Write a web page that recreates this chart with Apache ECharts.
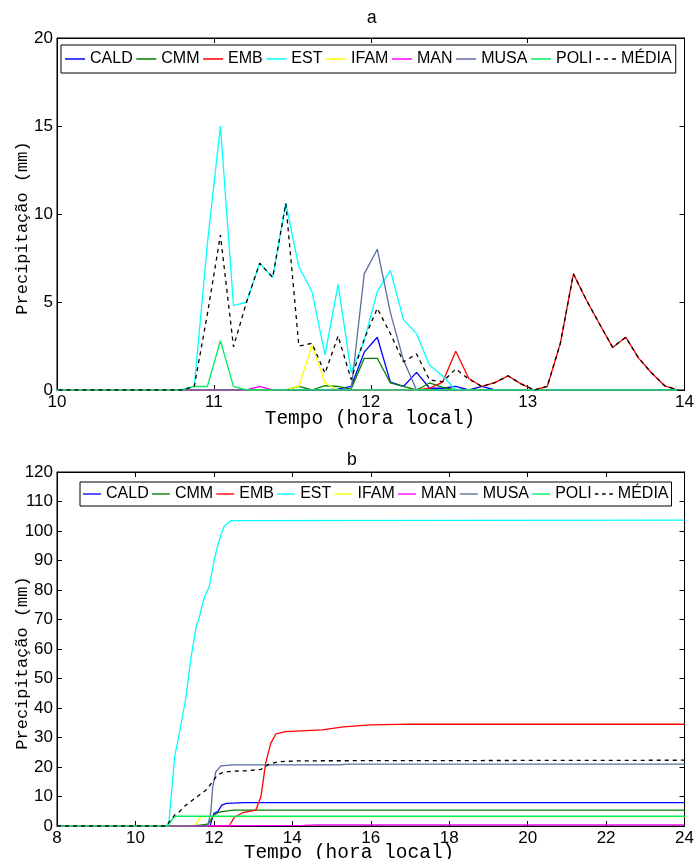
<!DOCTYPE html>
<html><head><meta charset="utf-8">
<script src="https://cdn.jsdelivr.net/npm/echarts@6/dist/echarts.min.js"></script>
<style>html,body{margin:0;padding:0;background:#fff}#c{width:697px;height:859px}</style>
</head><body><div id="c"></div>
<script>
// ---------- Panel a: 5-min precipitation (mm), samples every 5 min starting 09:57.5 ----------
const stations = ['CALD','CMM','EMB','EST','IFAM','MAN','MUSA','POLI','MÉDIA'];
const colors = ['#0000ff','#008000','#ff0000','#00ffff','#ffff00','#ff00ff','#5a6e9c','#00ee66','#000000'];
const startMinA = -2.5, stepMinA = 5;

const aCALD = [0,0,0,0,0,0,0,0,0,0,0,0,0,
  0,0,0,0,0,0,0,0,0,0.05,0.2,2.15,
  3.0,0.45,0.2,1.0,0.1,0.1,0.2,0,0.2,0,0,0,
  0,0,0,0,0,0,0,0,0,0,0,0];
const aCMM = [0,0,0,0,0,0,0,0,0,0,0,0,0,
  0,0,0,0,0,0,0.2,0,0.25,0.2,0.05,1.8,
  1.8,0.4,0.2,0,0.4,0.15,0,0,0,0,0,0,
  0,0,0,0,0,0,0,0,0,0,0,0];
const aEMB = [0,0,0,0,0,0,0,0,0,0,0,0,0,
  0,0,0,0,0,0,0,0,0,0,0,0,
  0,0,0,0,0.1,0.45,2.2,0.65,0.2,0.42,0.8,0.35,
  0,0.2,2.65,6.6,5.1,3.75,2.42,3.0,1.8,0.95,0.23,0];
const aEST = [0,0,0,0,0,0,0,0,0,0,0,0.2,8.3,
  15.0,4.8,5.0,7.2,6.4,10.6,7.0,5.6,2.0,6.0,1.0,2.8,
  5.6,6.8,4.0,3.2,1.4,0.8,0,0,0,0,0,0,
  0,0,0,0,0,0,0,0,0,0,0,0];
const aIFAM = [0,0,0,0,0,0,0,0,0,0,0,0,0,
  0,0,0,0,0,0,0.2,2.55,0.4,0,0,0,
  0,0,0,0,0,0,0,0,0,0,0,0,
  0,0,0,0,0,0,0,0,0,0,0,0];
const aMAN = [0,0,0,0,0,0,0,0,0,0,0,0,0,
  0,0,0,0.2,0,0,0,0,0,0,0,0,
  0,0,0,0,0,0,0,0,0,0,0,0,
  0,0,0,0,0,0,0,0,0,0,0,0];
const aMUSA = [0,0,0,0,0,0,0,0,0,0,0,0,0,
  0,0,0,0,0,0,0,0,0,0,0,6.6,
  8.0,4.4,1.7,0,0,0,0,0,0,0,0,0,
  0,0,0,0,0,0,0,0,0,0,0,0];
const aPOLI = [0,0,0,0,0,0,0,0,0,0,0,0.2,0.2,
  2.8,0.2,0,0,0,0,0,0,0,0,0,0,
  0,0,0,0,0,0,0,0,0,0,0,0,
  0,0,0,0,0,0,0,0,0,0,0,0];
const aMEDIA = [0,0,0,0,0,0,0,0,0,0,0,0.2,4.3,
  8.8,2.46,5.0,7.2,6.4,10.6,2.5,2.65,0.95,3.07,0.6,2.9,
  4.64,3.2,1.6,2.05,0.57,0.47,1.2,0.62,0.2,0.42,0.8,0.35,
  0,0.2,2.65,6.6,5.1,3.75,2.42,3.0,1.8,0.95,0.23,0];

// ---------- Panel b: accumulated precipitation (mm), [hour, mm] ----------
const bCALD = [[8,0],[11.9,0],[11.96,2.5],[12.0,4.3],[12.1,4.9],[12.15,6.0],[12.2,7.1],[12.32,7.7],[12.8,7.9],[24,7.9]];
const bCMM = [[8,0],[11.5,0],[11.55,0.2],[11.75,0.5],[11.86,0.7],[11.92,2.0],[12.0,3.7],[12.1,4.5],[12.2,4.85],[12.4,5.2],[12.5,5.4],[24,5.4]];
const bEMB = [[8,0],[12.39,0],[12.52,2.9],[12.73,4.5],[13.07,5.4],[13.2,9.9],[13.32,21.3],[13.45,28.0],[13.58,31.2],[13.83,32.0],[14.76,32.6],[15.3,33.6],[16,34.3],[17,34.5],[24,34.5]];
const bEST = [[8,0],[10.79,0],[10.85,1.0],[11.0,23.5],[11.12,31.4],[11.29,43.8],[11.42,57.4],[11.55,67.6],[11.63,70.9],[11.76,77.7],[11.88,81.1],[12.01,90.2],[12.09,94.7],[12.18,98.6],[12.26,101.5],[12.43,103.5],[24,103.7]];
const bIFAM = [[8,0],[11.48,0],[11.55,0.6],[11.63,2.9],[11.72,3.15],[24,3.15]];
const bMAN = [[8,0],[11.28,0],[11.33,0.2],[14.3,0.2],[14.6,0.4],[24,0.4]];
const bMUSA = [[8,0],[11.84,0],[11.92,4.3],[11.97,13.3],[12.05,18.4],[12.18,20.4],[12.47,20.7],[15.2,20.7],[15.4,21.0],[24,21.0]];
const bPOLI = [[8,0],[10.83,0],[10.87,0.6],[10.95,2.6],[11.04,3.3],[24,3.3]];
const bMEDIA = [[8,0],[10.78,0],[11.0,3.7],[11.12,4.85],[11.29,7.1],[11.46,8.8],[11.63,10.5],[11.8,12.2],[11.97,15.0],[12.09,17.3],[12.22,18.1],[12.47,18.6],[12.82,18.7],[13.2,19.2],[13.41,21.0],[13.66,21.8],[14.17,22.1],[24,22.3]];

const seriesA = [aCALD,aCMM,aEMB,aEST,aIFAM,aMAN,aMUSA,aPOLI,aMEDIA];
const seriesB = [bCALD,bCMM,bEMB,bEST,bIFAM,bMAN,bMUSA,bPOLI,bMEDIA];

const SANS = '"Liberation Sans", Arial, Helvetica, sans-serif';
const MONO = '"Liberation Mono", "Courier New", monospace';

const timeA = aEST.map((_, i) => 10 + (startMinA + stepMinA * i) / 60);

function xAx(grid, min, max, interval, pos) {
  return {
    type: 'value', gridIndex: grid, min, max, interval, position: pos,
    axisLine: { show: true, onZero: false, lineStyle: { color: '#000', width: 1 } },
    axisTick: { show: true, inside: true, length: 5, lineStyle: { color: '#000' } },
    axisLabel: { show: pos === 'bottom', color: '#000', fontFamily: SANS, fontSize: 17, margin: 4 },
    splitLine: { show: false }
  };
}
function yAx(grid, min, max, interval, pos) {
  return {
    type: 'value', gridIndex: grid, min, max, interval, position: pos,
    axisLine: { show: true, onZero: false, lineStyle: { color: '#000', width: 1 } },
    axisTick: { show: true, inside: true, length: 5, lineStyle: { color: '#000' } },
    axisLabel: { show: pos === 'left', color: '#000', fontFamily: SANS, fontSize: 17, margin: 4 },
    splitLine: { show: false }
  };
}

const series = [];
stations.forEach((name, s) => {
  series.push({
    name, type: 'line', xAxisIndex: 0, yAxisIndex: 0, symbol: 'none', clip: true,
    data: timeA.map((t, i) => [t, seriesA[s][i]]),
    lineStyle: { color: colors[s], width: 1.3, type: name === 'MÉDIA' ? [4, 4] : 'solid' },
    itemStyle: { color: colors[s] }, z: 2 + s, animation: false
  });
});
stations.forEach((name, s) => {
  series.push({
    name, type: 'line', xAxisIndex: 2, yAxisIndex: 2, symbol: 'none', clip: true,
    data: seriesB[s],
    lineStyle: { color: colors[s], width: 1.3, type: name === 'MÉDIA' ? [4, 4] : 'solid' },
    itemStyle: { color: colors[s] }, z: 2 + s, animation: false
  });
});

const lineIcon = 'path://M0,0L20,0L20,1.5L0,1.5Z';
const dashIcon = 'path://M0,0h4v1.5h-4zM8,0h4v1.5h-4zM16,0h4v1.5h-4z';
const legendData = stations.map(n => ({ name: n, icon: n === 'MÉDIA' ? dashIcon : lineIcon }));

const legendBase = {
  data: legendData, orient: 'horizontal', selectedMode: false,
  itemWidth: 20, itemHeight: 1.5, itemGap: 3.6,
  borderColor: '#000', borderWidth: 1, backgroundColor: '#fff',
  textStyle: { fontFamily: SANS, fontSize: 16, color: '#000' }, z: 20
};

const textEl = (x, y, text, size, rot) => ({
  type: 'text', x, y, rotation: rot || 0, z: 30,
  style: { text, font: size + 'px ' + MONO, fill: '#000', align: 'center', verticalAlign: 'middle', textAlign: 'center', textVerticalAlign: 'middle' }
});

const option = {
  animation: false,
  backgroundColor: '#fff',
  grid: [
    { left: 57, top: 38, width: 629, height: 352, show: true, borderColor: '#000', borderWidth: 1, backgroundColor: '#fff' },
    { left: 57, top: 472, width: 629, height: 354, show: true, borderColor: '#000', borderWidth: 1, backgroundColor: '#fff' }
  ],
  xAxis: [xAx(0, 10, 14, 1, 'bottom'), xAx(0, 10, 14, 1, 'top'), xAx(1, 8, 24, 2, 'bottom'), xAx(1, 8, 24, 2, 'top')],
  yAxis: [yAx(0, 0, 20, 5, 'left'), yAx(0, 0, 20, 5, 'right'), yAx(1, 0, 120, 10, 'left'), yAx(1, 0, 120, 10, 'right')],
  legend: [
    Object.assign({}, legendBase, { left: 61, top: 45, padding: [6, 4] }),
    Object.assign({}, legendBase, { left: 80, top: 482, padding: [4, 3], itemGap: 3.2, itemWidth: 18 })
  ],
  graphic: [
    textEl(372, 18, 'a', 18),
    textEl(370, 419, 'Tempo (hora local)', 19.5),
    textEl(22, 228, 'Precipitação (mm)', 17, Math.PI / 2),
    textEl(352, 460, 'b', 18),
    textEl(349, 853, 'Tempo (hora local)', 19.5),
    textEl(22, 663, 'Precipitação (mm)', 17, Math.PI / 2)
  ],
  series
};

const chart = echarts.init(document.getElementById('c'), null, { renderer: 'canvas' });
chart.setOption(option);
</script></body></html>
